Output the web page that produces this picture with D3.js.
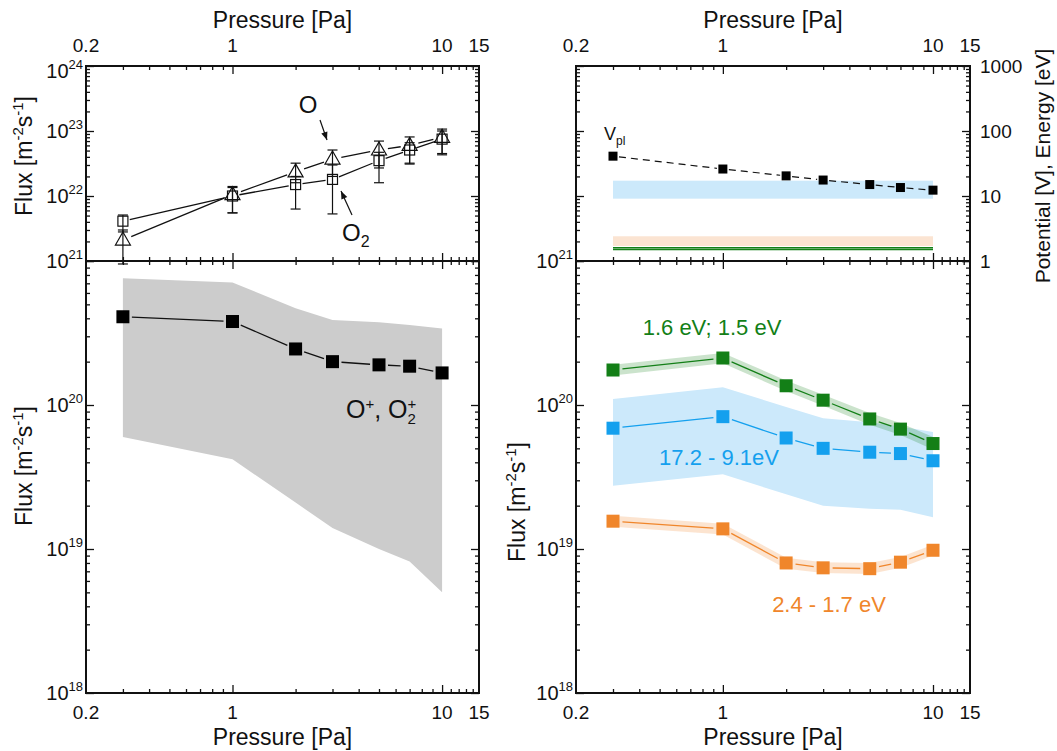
<!DOCTYPE html>
<html>
<head>
<meta charset="utf-8">
<script src="https://cdn.jsdelivr.net/npm/d3@7"></script>
<style>
  body { margin: 0; background: #fff; }
  svg text { font-family: "Liberation Sans", Arial, sans-serif; fill: #111; }
</style>
</head>
<body>
<svg id="chart" width="1057" height="751"></svg>
<script>
// ---- data -------------------------------------------------------------
const pressure = [0.3, 1, 2, 3, 5, 7, 10];            // Pa

// neutral fluxes (m^-2 s^-1) with error bar limits
const fluxO      = [2.1e21, 1.05e22, 2.35e22, 3.7e22, 5.1e22, 6.0e22, 8.0e22];
const fluxOLow   = [0.9e21, 5.5e21, 1.6e22, 2.0e22, 2.7e22, 3.2e22, 4.3e22];
const fluxOHigh  = [3.0e21, 1.4e22, 3.2e22, 5.1e22, 7.0e22, 8.1e22, 1.07e23];
const fluxO2     = [4.1e21, 1.0e22, 1.5e22, 1.8e22, 3.5e22, 5.1e22, 7.5e22];
const fluxO2Low  = [2.8e21, 5.5e21, 6.3e21, 5.3e21, 1.6e22, 3.1e22, 4.5e22];
const fluxO2High = [5.1e21, 1.35e22, 2.0e22, 3.0e22, 4.7e22, 6.6e22, 1.0e23];

// total ion flux O+, O2+ with uncertainty band
const ionFlux = [4.1e20, 3.8e20, 2.45e20, 2.0e20, 1.9e20, 1.86e20, 1.67e20];
const ionLow  = [6.0e19, 4.2e19, 2.1e19, 1.4e19, 1.0e19, 8.2e18, 5.0e18];
const ionHigh = [7.6e20, 7.1e20, 4.7e20, 3.9e20, 3.75e20, 3.6e20, 3.4e20];

// plasma potential (V) and energy ranges (eV)
const plasmaPotential = [41, 26, 20.4, 17.6, 15, 13.5, 12.3];
const blueEnergy   = [9.1, 17.2];
const orangeEnergy = [1.7, 2.4];
const greenEnergy  = [1.5, 1.6];

// ion flux per energy group
const greenFlux  = [1.75e20, 2.12e20, 1.36e20, 1.08e20, 8.0e19, 6.8e19, 5.4e19];
const greenLow   = [1.60e20, 1.95e20, 1.25e20, 0.99e20, 7.3e19, 6.2e19, 4.9e19];
const greenHigh  = [1.90e20, 2.30e20, 1.48e20, 1.18e20, 8.8e19, 7.5e19, 6.0e19];
const blueFlux   = [6.9e19, 8.3e19, 5.9e19, 5.0e19, 4.7e19, 4.6e19, 4.1e19];
const blueLow    = [2.75e19, 3.3e19, 2.4e19, 2.0e19, 1.9e19, 1.87e19, 1.66e19];
const blueHigh   = [1.1e20, 1.33e20, 9.7e19, 8.1e19, 7.6e19, 7.1e19, 6.5e19];
const orangeFlux = [1.56e19, 1.38e19, 8.0e18, 7.4e18, 7.3e18, 8.1e18, 9.8e18];
const orangeLow  = [1.43e19, 1.26e19, 7.3e18, 6.8e18, 6.7e18, 7.4e18, 9.0e18];
const orangeHigh = [1.70e19, 1.50e19, 8.7e18, 8.1e18, 8.0e18, 8.8e18, 1.07e19];

// axis ticks
const xTickLabels = [0.2, 1, 10, 15];
const xMajorTicks = [1, 10];
const xMinorTicks = [0.3, 0.4, 0.5, 0.6, 0.7, 0.8, 0.9, 2, 3, 4, 5, 6, 7, 8, 9, 11, 12, 13, 14];
const neutralDecades = [21, 22, 23, 24];
const ionDecades = [18, 19, 20, 21];
const potentialTicks = [1, 10, 100, 1000];

// ---- layout & scales --------------------------------------------------
const svg = d3.select("#chart");
const Lp = {x0: 86, x1: 479}, Rp = {x0: 576, x1: 970};
const Tp = {y0: 66, y1: 261}, Bp = {y0: 261, y1: 693};

const xL = d3.scaleLog().domain([0.2, 15]).range([Lp.x0, Lp.x1]);
const xR = d3.scaleLog().domain([0.2, 15]).range([Rp.x0, Rp.x1]);
const yNeutral = d3.scaleLog().domain([1e21, 1e24]).range([Tp.y1, Tp.y0]);
const yPot = d3.scaleLog().domain([1, 1000]).range([Tp.y1, Tp.y0]);
const yIon = d3.scaleLog().domain([1e18, 1e21]).range([Bp.y1, Bp.y0]);

const GREEN = "#137f17", BLUE = "#14a0ee", ORANGE = "#f0862b";

function minorDecadeTicks(decades) {
  const out = [];
  for (let i = 0; i < decades.length - 1; i++)
    for (let m = 2; m <= 9; m++) out.push(m * Math.pow(10, decades[i]));
  return out;
}
function decadeValues(decades) { return decades.map(d => Math.pow(10, d)); }

// segments between consecutive points, trimmed so lines stop short of markers
function trimmedSegments(pts, gap) {
  const segs = [];
  for (let i = 0; i < pts.length - 1; i++) {
    const [x1, y1] = pts[i], [x2, y2] = pts[i + 1];
    const len = Math.hypot(x2 - x1, y2 - y1);
    const ux = (x2 - x1) / len, uy = (y2 - y1) / len;
    segs.push([x1 + ux * gap, y1 + uy * gap, x2 - ux * gap, y2 - uy * gap]);
  }
  return segs;
}
function drawSegments(g, segs, color, width, dash) {
  g.selectAll(null).data(segs).join("line")
    .attr("x1", d => d[0]).attr("y1", d => d[1])
    .attr("x2", d => d[2]).attr("y2", d => d[3])
    .attr("stroke", color).attr("stroke-width", width)
    .attr("stroke-dasharray", dash || null);
}

// ---- data layers ------------------------------------------------------
const gData = svg.append("g");

// top left: neutral O and O2 fluxes
{
  const g = gData.append("g");
  const ptsO = pressure.map((p, i) => [xL(p), yNeutral(fluxO[i])]);
  const ptsO2 = pressure.map((p, i) => [xL(p), yNeutral(fluxO2[i])]);
  drawSegments(g, trimmedSegments(ptsO, 9), "#111", 1.3);
  drawSegments(g, trimmedSegments(ptsO2, 7), "#111", 1.3);

  const bars = [];
  pressure.forEach((p, i) => {
    bars.push({x: xL(p), lo: yNeutral(fluxOLow[i]), hi: yNeutral(fluxOHigh[i])});
    bars.push({x: xL(p), lo: yNeutral(fluxO2Low[i]), hi: yNeutral(fluxO2High[i])});
  });
  const eb = g.selectAll(null).data(bars).join("g");
  eb.append("line").attr("x1", d => d.x).attr("x2", d => d.x)
    .attr("y1", d => d.lo).attr("y2", d => d.hi)
    .attr("stroke", "#111").attr("stroke-width", 1.2);
  eb.append("line").attr("x1", d => d.x - 5).attr("x2", d => d.x + 5)
    .attr("y1", d => d.lo).attr("y2", d => d.lo)
    .attr("stroke", "#111").attr("stroke-width", 1.2);
  eb.append("line").attr("x1", d => d.x - 5).attr("x2", d => d.x + 5)
    .attr("y1", d => d.hi).attr("y2", d => d.hi)
    .attr("stroke", "#111").attr("stroke-width", 1.2);

  g.selectAll(null).data(ptsO2).join("rect")
    .attr("x", d => d[0] - 5).attr("y", d => d[1] - 5)
    .attr("width", 10).attr("height", 10)
    .attr("fill", "none").attr("stroke", "#111").attr("stroke-width", 1.2);
  g.selectAll(null).data(ptsO).join("path")
    .attr("d", d => `M${d[0]},${d[1] - 8}L${d[0] + 7.5},${d[1] + 5}L${d[0] - 7.5},${d[1] + 5}Z`)
    .attr("fill", "none").attr("stroke", "#111").attr("stroke-width", 1.2);

  // labels with arrows
  g.append("text").attr("x", 308).attr("y", 113).attr("text-anchor", "middle")
    .attr("font-size", 24).text("O");
  const o2 = g.append("text").attr("x", 342).attr("y", 241).attr("font-size", 24);
  o2.append("tspan").text("O");
  o2.append("tspan").attr("font-size", 16).attr("dy", 6).text("2");

  const arrow = (x1, y1, x2, y2) => {
    g.append("line").attr("x1", x1).attr("y1", y1).attr("x2", x2).attr("y2", y2)
      .attr("stroke", "#111").attr("stroke-width", 1.2);
    const a = Math.atan2(y2 - y1, x2 - x1), L = 8, w = 3.2;
    const bx = x2 - L * Math.cos(a), by = y2 - L * Math.sin(a);
    const nx = -Math.sin(a) * w, ny = Math.cos(a) * w;
    g.append("path").attr("d", `M${x2},${y2}L${bx + nx},${by + ny}L${bx - nx},${by - ny}Z`)
      .attr("fill", "#111");
  };
  arrow(320, 120, 327, 140);
  arrow(352, 215, 341, 191);
}

// bottom left: ion flux band and line
{
  const g = gData.append("g");
  const rows = pressure.map((p, i) => ({p, v: ionFlux[i], lo: ionLow[i], hi: ionHigh[i]}));
  g.append("path").datum(rows)
    .attr("d", d3.area().x(d => xL(d.p)).y0(d => yIon(d.lo)).y1(d => yIon(d.hi)))
    .attr("fill", "#cccccc");
  const pts = rows.map(d => [xL(d.p), yIon(d.v)]);
  drawSegments(g, trimmedSegments(pts, 9), "#111", 1.3);
  g.selectAll(null).data(pts).join("rect")
    .attr("x", d => d[0] - 6.5).attr("y", d => d[1] - 6.5)
    .attr("width", 13).attr("height", 13).attr("fill", "#000");
  const t = g.append("text").attr("x", 346).attr("y", 418).attr("font-size", 25);
  t.append("tspan").text("O");
  t.append("tspan").attr("font-size", 15).attr("dy", -9).text("+");
  t.append("tspan").attr("dy", 9).text(", O");
  t.append("tspan").attr("font-size", 15).attr("dy", 6).text("2");
  t.append("tspan").attr("font-size", 15).attr("dx", -8.3).attr("dy", -15).text("+");
}

// top right: plasma potential and energy ranges
{
  const g = gData.append("g");
  const band = (range, color) => g.append("rect")
    .attr("x", xR(pressure[0])).attr("width", xR(pressure[pressure.length - 1]) - xR(pressure[0]))
    .attr("y", yPot(range[1])).attr("height", yPot(range[0]) - yPot(range[1]))
    .attr("fill", color);
  band(blueEnergy, "#cce9fb");
  band(orangeEnergy, "#fbe4d2");
  g.selectAll(null).data(greenEnergy).join("line")
    .attr("x1", xR(pressure[0])).attr("x2", xR(pressure[pressure.length - 1]))
    .attr("y1", d => yPot(d)).attr("y2", d => yPot(d))
    .attr("stroke", GREEN).attr("stroke-width", 1.4);

  const pts = pressure.map((p, i) => [xR(p), yPot(plasmaPotential[i])]);
  drawSegments(g, trimmedSegments(pts, 6), "#111", 1.2, "7,5");
  g.selectAll(null).data(pts).join("rect")
    .attr("x", d => d[0] - 4.5).attr("y", d => d[1] - 4.5)
    .attr("width", 9).attr("height", 9).attr("fill", "#000");
  const v = g.append("text").attr("x", 604).attr("y", 140).attr("font-size", 18);
  v.append("tspan").text("V");
  v.append("tspan").attr("font-size", 12).attr("dy", 5).text("pl");
}

// bottom right: ion flux per energy group
{
  const g = gData.append("g");
  const groups = [
    {v: blueFlux, lo: blueLow, hi: blueHigh, color: BLUE, band: "#cce9fb"},
    {v: greenFlux, lo: greenLow, hi: greenHigh, color: GREEN, band: "rgba(20,128,25,0.22)"},
    {v: orangeFlux, lo: orangeLow, hi: orangeHigh, color: ORANGE, band: "rgba(240,134,43,0.22)"}
  ];
  const area = d3.area().x(d => xR(d.p)).y0(d => yIon(d.lo)).y1(d => yIon(d.hi));
  groups.forEach(s => {
    const rows = pressure.map((p, i) => ({p, lo: s.lo[i], hi: s.hi[i]}));
    g.append("path").datum(rows).attr("d", area).attr("fill", s.band);
  });
  groups.forEach(s => {
    const pts = pressure.map((p, i) => [xR(p), yIon(s.v[i])]);
    drawSegments(g, trimmedSegments(pts, 9.5), s.color, 1.3);
    g.selectAll(null).data(pts).join("rect")
      .attr("x", d => d[0] - 6.5).attr("y", d => d[1] - 6.5)
      .attr("width", 13).attr("height", 13).attr("fill", s.color);
  });
  g.append("text").attr("x", 712).attr("y", 335).attr("text-anchor", "middle")
    .attr("font-size", 22).style("fill", GREEN).text("1.6 eV; 1.5 eV");
  g.append("text").attr("x", 719).attr("y", 465).attr("text-anchor", "middle")
    .attr("font-size", 22).style("fill", BLUE).text("17.2 - 9.1eV");
  g.append("text").attr("x", 829).attr("y", 612).attr("text-anchor", "middle")
    .attr("font-size", 22).style("fill", ORANGE).text("2.4 - 1.7 eV");
}

// ---- axes, ticks and frames ------------------------------------------
const gAxes = svg.append("g");

function tickSet(axisGen, scale, values, size, tx, ty) {
  const a = axisGen(scale).tickValues(values).tickSize(-size).tickFormat("");
  const sel = gAxes.append("g").attr("transform", `translate(${tx},${ty})`).call(a);
  sel.select(".domain").remove();
  sel.selectAll("line").attr("stroke", "#111").attr("stroke-width", 1.3);
}

function panelTicks(x, y0s, y1s, p, yLeft, yRight, leftDecades, rightMajors, rightMinors) {
  tickSet(d3.axisTop, x, xMajorTicks, 8, 0, y0s);
  tickSet(d3.axisTop, x, xMinorTicks, 4, 0, y0s);
  tickSet(d3.axisBottom, x, xMajorTicks, 8, 0, y1s);
  tickSet(d3.axisBottom, x, xMinorTicks, 4, 0, y1s);
  tickSet(d3.axisLeft, yLeft, decadeValues(leftDecades), 8, p.x0, 0);
  tickSet(d3.axisLeft, yLeft, minorDecadeTicks(leftDecades), 4, p.x0, 0);
  tickSet(d3.axisRight, yRight, rightMajors, 8, p.x1, 0);
  tickSet(d3.axisRight, yRight, rightMinors, 4, p.x1, 0);
}

panelTicks(xL, Tp.y0, Tp.y1, Lp, yNeutral, yNeutral, neutralDecades,
  decadeValues(neutralDecades), minorDecadeTicks(neutralDecades));
panelTicks(xL, Bp.y0, Bp.y1, Lp, yIon, yIon, ionDecades,
  decadeValues(ionDecades), minorDecadeTicks(ionDecades));
panelTicks(xR, Tp.y0, Tp.y1, Rp, yNeutral, yPot, neutralDecades,
  potentialTicks, minorDecadeTicks([0, 1, 2, 3]));
panelTicks(xR, Bp.y0, Bp.y1, Rp, yIon, yIon, ionDecades,
  decadeValues(ionDecades), minorDecadeTicks(ionDecades));

// frames
[[Lp, Tp], [Lp, Bp], [Rp, Tp], [Rp, Bp]].forEach(([px, py]) => {
  gAxes.append("rect").attr("x", px.x0).attr("y", py.y0)
    .attr("width", px.x1 - px.x0).attr("height", py.y1 - py.y0)
    .attr("fill", "none").attr("stroke", "#111").attr("stroke-width", 2);
});

// ---- labels -----------------------------------------------------------
const gLab = svg.append("g");

function xLabels(x, y) {
  gLab.append("g").selectAll("text").data(xTickLabels).join("text")
    .attr("x", d => x(d)).attr("y", y).attr("text-anchor", "middle")
    .attr("font-size", 19).text(d => d);
}
xLabels(xL, 52); xLabels(xR, 52);
xLabels(xL, 719); xLabels(xR, 719);

function xTitle(x, y) {
  gLab.append("text").attr("x", (x.range()[0] + x.range()[1]) / 2).attr("y", y)
    .attr("text-anchor", "middle").attr("font-size", 23).text("Pressure [Pa]");
}
xTitle(xL, 28); xTitle(xR, 28);
xTitle(xL, 745); xTitle(xR, 745);

// decade labels; the topmost one sits a little lower to clear the axis numbers above
function powLabels(scale, decades, xPos, topDecade) {
  const t = gLab.append("g").selectAll("text").data(decades).join("text")
    .attr("x", xPos).attr("y", d => scale(Math.pow(10, d)) + (d === topDecade ? 12 : 7))
    .attr("text-anchor", "end").attr("font-size", 20);
  t.append("tspan").text("10");
  t.append("tspan").attr("font-size", 13).attr("dy", -9).text(d => d);
}
powLabels(yNeutral, [22, 23, 24], Lp.x0 - 3, 24);
powLabels(yIon, ionDecades, Lp.x0 - 3);
powLabels(yIon, ionDecades, Rp.x0 - 3);

gLab.append("g").selectAll("text").data(potentialTicks).join("text")
  .attr("x", Rp.x1 + 10).attr("y", d => yPot(d) + 7)
  .attr("font-size", 19).text(d => d);

function fluxTitle(x, y) {
  const t = gLab.append("text").attr("transform", `translate(${x},${y}) rotate(-90)`)
    .attr("text-anchor", "middle").attr("font-size", 23);
  t.append("tspan").text("Flux [m");
  t.append("tspan").attr("font-size", 15).attr("dy", -9).text("-2");
  t.append("tspan").attr("dy", 9).text("s");
  t.append("tspan").attr("font-size", 15).attr("dy", -9).text("-1");
  t.append("tspan").attr("dy", 9).text("]");
}
fluxTitle(32, 156);
fluxTitle(32, 466);
fluxTitle(525, 502);

gLab.append("text").attr("transform", `translate(1050,166) rotate(-90)`)
  .attr("text-anchor", "middle").attr("font-size", 21).text("Potential [V], Energy [eV]");
</script>
</body>
</html>
